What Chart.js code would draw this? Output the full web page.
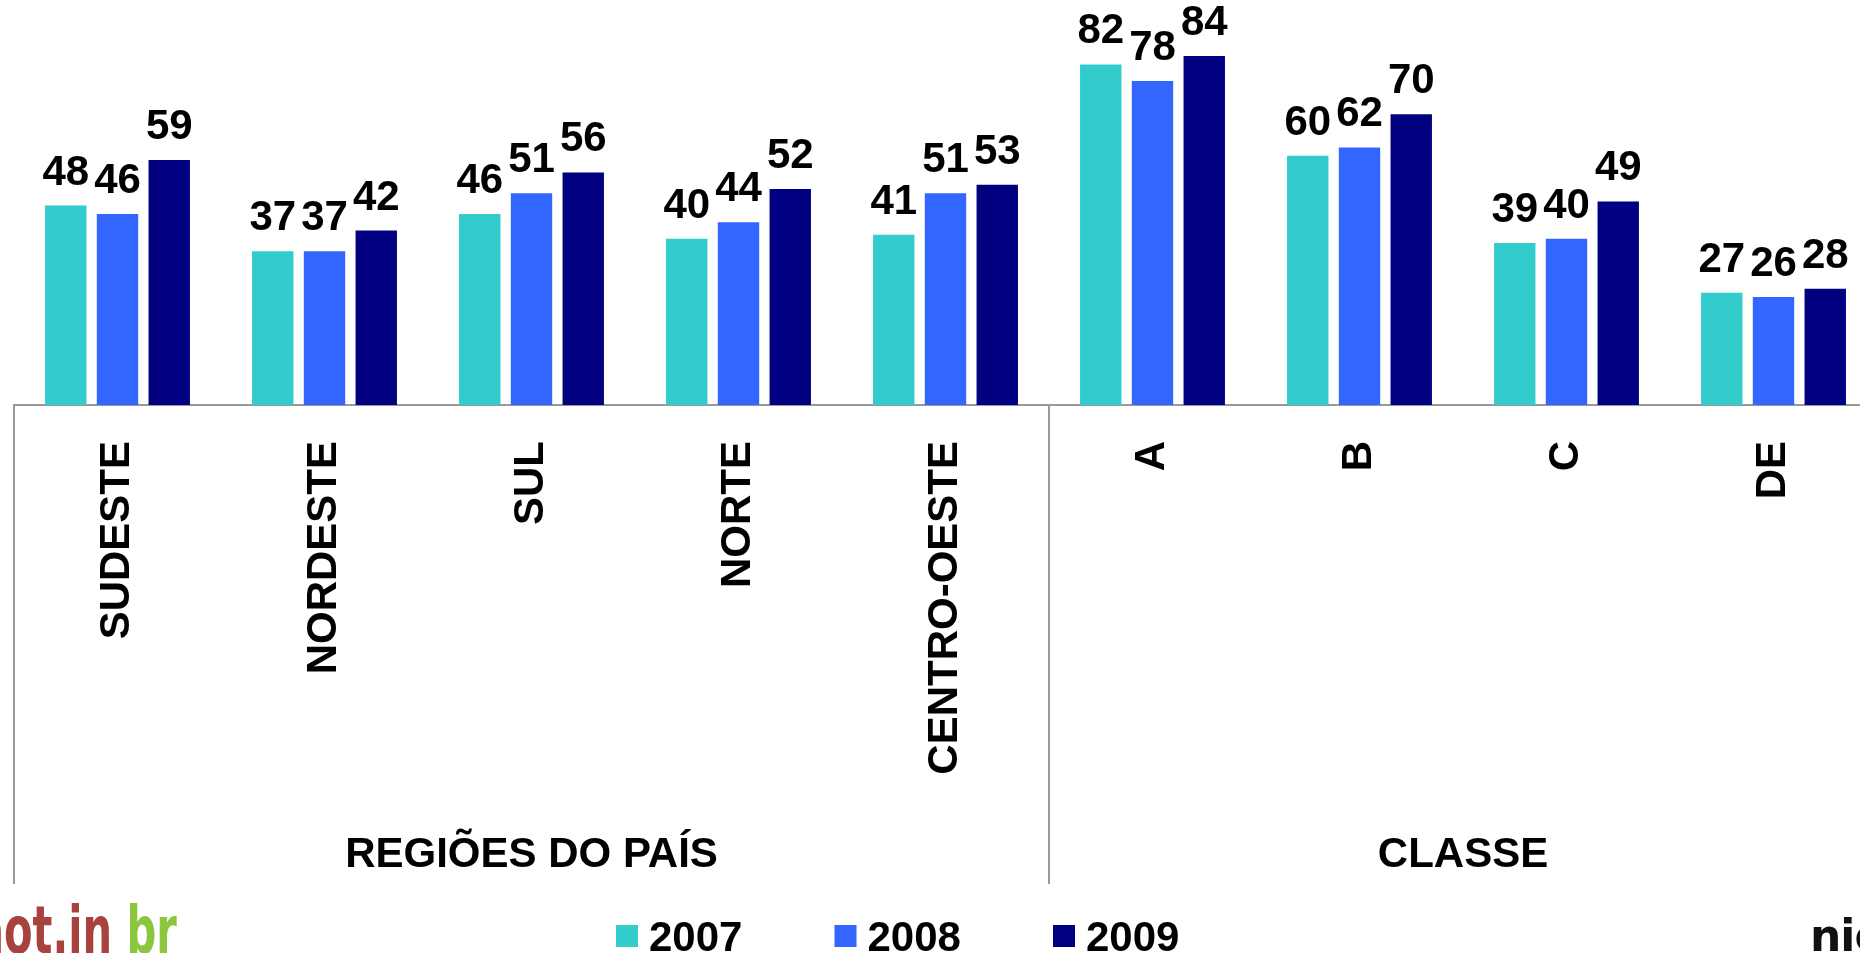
<!DOCTYPE html>
<html>
<head>
<meta charset="utf-8">
<script src="https://cdn.jsdelivr.net/npm/chart.js@4/dist/chart.umd.min.js"></script>
<style>
html,body{margin:0;padding:0;background:#fff;overflow:hidden;width:1860px;height:953px;}
#wrap{position:absolute;left:0;top:0;width:1880px;height:953px;}
.logo{position:absolute;white-space:nowrap;font-weight:bold;line-height:1;}
</style>
</head>
<body>
<div id="wrap"><canvas id="c"></canvas></div>
<div class="logo" style="left:-24px;top:898px;font-size:66px;font-family:'DejaVu Sans Condensed','DejaVu Sans',sans-serif;font-stretch:condensed;transform:scaleX(0.7);transform-origin:0 0;"><span style="color:#a8423f">aot.in </span><span style="color:#8cc63e">br</span></div>
<div class="logo" style="left:1810px;top:914px;font-size:44px;font-family:'DejaVu Sans',sans-serif;color:#111;letter-spacing:-1px;">nielsen</div>
<script>
// ---- data ----
const categories = ['SUDESTE','NORDESTE','SUL','NORTE','CENTRO-OESTE','A','B','C','DE'];
const groupLabels = ['REGIÕES DO PAÍS','CLASSE'];
const groupSizes = [5,4];
const years = ['2007','2008','2009'];
const v2007 = [48,37,46,40,41,82,60,39,27];
const v2008 = [46,37,51,44,51,78,62,40,26];
const v2009 = [59,42,56,52,53,84,70,49,28];
const colors = ['#33CCCC','#3366FF','#000080'];

const FONT = '"Liberation Sans", Arial, Helvetica, sans-serif';
Chart.defaults.font.family = FONT;

const decor = {
  id: 'decor',
  afterDatasetsDraw(chart) {
    const ctx = chart.ctx;
    ctx.save();
    ctx.font = 'bold 42px ' + FONT;
    ctx.fillStyle = '#000';
    ctx.textAlign = 'center';
    ctx.textBaseline = 'alphabetic';
    chart.data.datasets.forEach((ds, i) => {
      chart.getDatasetMeta(i).data.forEach((bar, j) => {
        ctx.fillText(String(ds.data[j]), bar.x, bar.y - 21);
      });
    });
    ctx.restore();
  },
  afterDraw(chart) {
    const x = chart.scales.x, ctx = chart.ctx, ca = chart.chartArea;
    const half = (x.getPixelForValue(1) - x.getPixelForValue(0)) / 2;
    const bounds = [x.getPixelForValue(0) - half];
    let idx = 0;
    groupSizes.forEach(n => { idx += n; bounds.push(x.getPixelForValue(idx - 1) + half); });
    ctx.save();
    ctx.strokeStyle = '#999999';
    ctx.lineWidth = 2;
    bounds.forEach(b => {
      ctx.beginPath();
      ctx.moveTo(b, ca.bottom);
      ctx.lineTo(b, 884);
      ctx.stroke();
    });
    ctx.font = 'bold 42px ' + FONT;
    ctx.fillStyle = '#000';
    ctx.textAlign = 'center';
    ctx.textBaseline = 'alphabetic';
    groupLabels.forEach((g, k) => ctx.fillText(g, (bounds[k] + bounds[k + 1]) / 2, 867));
    // legend
    ctx.textAlign = 'left';
    let lx = 616;
    chart.data.datasets.forEach(ds => {
      ctx.fillStyle = ds.backgroundColor;
      ctx.fillRect(lx, 925, 22, 22);
      ctx.fillStyle = '#000';
      ctx.fillText(ds.label, lx + 33, 951);
      lx += 218.5;
    });
    ctx.restore();
  }
};

new Chart(document.getElementById('c'), {
  type: 'bar',
  data: {
    labels: categories,
    datasets: [
      { label: years[0], data: v2007, backgroundColor: colors[0] },
      { label: years[1], data: v2008, backgroundColor: colors[1] },
      { label: years[2], data: v2009, backgroundColor: colors[2] }
    ]
  },
  options: {
    responsive: true,
    maintainAspectRatio: false,
    animation: false,
    datasets: { bar: { categoryPercentage: 0.75, barPercentage: 0.8 } },
    layout: { padding: { left: 14, right: 3, top: 0, bottom: 0 } },
    plugins: { legend: { display: false }, tooltip: { enabled: false } },
    scales: {
      x: {
        grid: { display: false, drawTicks: false },
        border: { display: true, color: '#999999', width: 2 },
        ticks: {
          autoSkip: false, minRotation: 90, maxRotation: 90, padding: 36,
          color: '#000', font: { size: 42, weight: 'bold', family: FONT }
        },
        afterFit(scale) { scale.height = 548; }
      },
      y: { display: false, min: 0, max: 97.5 }
    }
  },
  plugins: [decor]
});
</script>
</body>
</html>
